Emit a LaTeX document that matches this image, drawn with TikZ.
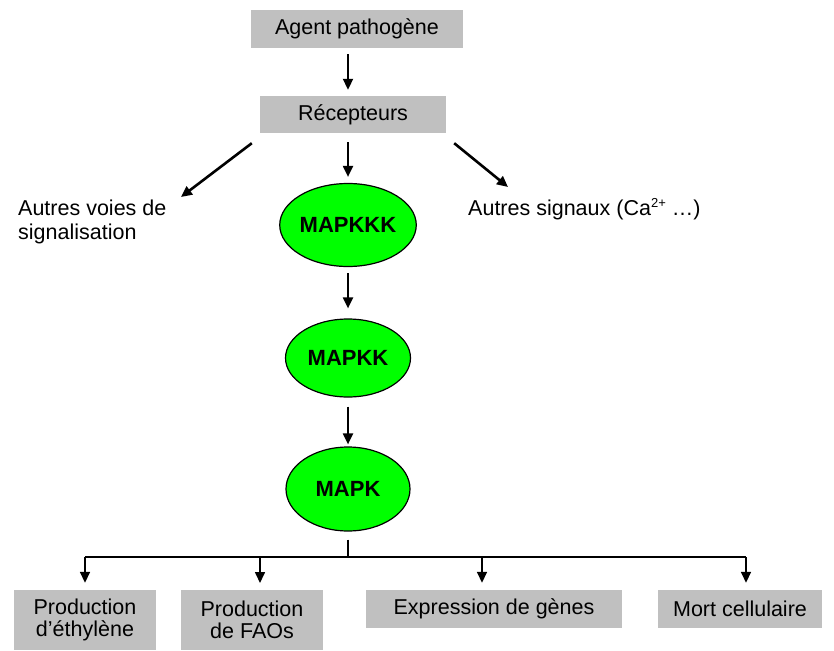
\documentclass[tikz,border=0pt]{standalone}
\usepackage{fontspec}
\setmainfont{Liberation Sans}
\usetikzlibrary{arrows.meta,shapes.geometric}
\definecolor{boxgray}{RGB}{192,192,192}
\definecolor{kinase}{RGB}{0,255,0}
\newcommand{\ionsup}[1]{\raisebox{0.36em}{\fontsize{13}{13}\selectfont #1}}
\begin{document}
\begin{tikzpicture}[x=1pt,y=-1pt,
  every node/.style={font=\fontsize{21.5}{23}\selectfont, inner sep=0pt},
  graybox/.style={rectangle, fill=boxgray, align=center},
  kin/.style={ellipse, draw=black, line width=1.2pt, fill=kinase,
    font=\fontsize{22}{23}\selectfont\bfseries},
  arr/.style={line width=2pt, -{Triangle[length=11pt,width=10pt]}},
  bus/.style={line width=1.6pt}]
\useasboundingbox (0,0) rectangle (834,650);

% receptor cascade
\node[graybox, minimum width=212, minimum height=38] (agent) at (357,29) {Agent pathogène};
\node[graybox, minimum width=186, minimum height=37] (recep) at (353,114.5) {Récepteurs};
\node[kin, minimum width=124, minimum height=83] (mapkkk) at (348,225) {MAPKKK};
\node[kin, minimum width=125, minimum height=78] (mapkk) at (348,358) {MAPKK};
\node[kin, minimum width=124, minimum height=84] (mapk) at (348,489) {MAPK};

% side branches
\node[anchor=base west, align=left, font=\fontsize{21.5}{24}\selectfont] (voies) at (18,239) {Autres voies de\\signalisation};
\node[anchor=base west] (signaux) at (468,215) {Autres signaux (Ca\ionsup{2+} \dots)};
\coordinate (voiestip) at (181,197);
\coordinate (signauxtip) at (508,187);

% responses
\node[graybox, minimum width=142, minimum height=60, font=\fontsize{21.5}{22.5}\selectfont] (eth) at (85,620) {Production\\d’éthylène};
\node[graybox, minimum width=142, minimum height=60, font=\fontsize{21.5}{22.5}\selectfont] (fao) at (252,620) {Production\\de FAOs};
\node[graybox, minimum width=256, minimum height=38] (genes) at (494,609) {Expression de gènes};
\node[graybox, minimum width=164, minimum height=38] (mort) at (740,609) {Mort cellulaire};

% connectors
\draw[arr, shorten <=6pt, shorten >=6pt] (agent.south -| mapkkk) -- (recep.north -| mapkkk);
\draw[arr, shorten <=9pt, shorten >=6pt] (recep.south -| mapkkk) -- (mapkkk.north);
\draw[arr, line width=2.6pt] ([shift={(-8,10)}]recep.south west) -- (voiestip);
\draw[arr, line width=2.6pt] ([shift={(8,10)}]recep.south east) -- (signauxtip);
\draw[arr, shorten <=6pt, shorten >=10pt] (mapkkk.south) -- (mapkk.north);
\draw[arr, shorten <=9pt, shorten >=2pt] (mapkk.south) -- (mapk.north);

% distribution bus
\coordinate (busc) at (348,557);
\coordinate (busl) at (85,557);
\coordinate (busr) at (746,557);
\draw[bus, shorten <=8pt] (mapk.south) -- (busc);
\draw[bus] (busl) -- (busr);
\draw[arr, line width=1.6pt, shorten >=7pt] (busl) -- (busl |- eth.north);
\draw[arr, line width=1.6pt, shorten >=7pt] (260,557) -- (260,590);
\draw[arr, line width=1.6pt, shorten >=7pt] (482,557) -- (genes.north -| 482,0);
\draw[arr, line width=1.6pt, shorten >=7pt] (busr) -- (busr |- mort.north);
\end{tikzpicture}
\end{document}
